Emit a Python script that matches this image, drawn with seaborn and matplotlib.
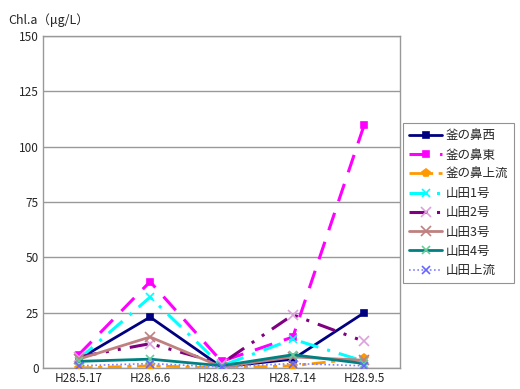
import matplotlib
matplotlib.use("Agg")
import matplotlib.pyplot as plt
import seaborn as sns
import pandas as pd

dates = ["H28.5.17", "H28.6.6", "H28.6.23", "H28.7.14", "H28.9.5"]
stations = ["釜の鼻西", "釜の鼻東", "釜の鼻上流", "山田1号", "山田2号", "山田3号", "山田4号", "山田上流"]

kamanohana_nishi = [4, 23, 0.5, 4, 25]
kamanohana_higashi = [6, 39, 3, 14, 110]
kamanohana_joryu = [0, 1, 0, 1, 4.5]
yamada1 = [4, 32, 1, 13, 3]
yamada2 = [5, 11, 2, 24, 12]
yamada3 = [4, 14, 0.5, 5, 3.5]
yamada4 = [3, 4, 1, 6, 2]
yamada_joryu = [1, 2, 0.5, 2, 1]

values = [kamanohana_nishi, kamanohana_higashi, kamanohana_joryu, yamada1,
          yamada2, yamada3, yamada4, yamada_joryu]

styles = {
    "釜の鼻西":   dict(color="#000080", ls="-", lw=2.0, marker="s", ms=5, mfc="#000080", mec="#000080"),
    "釜の鼻東":   dict(color="#FF00FF", ls=(0, (6, 4)), lw=2.2, marker="s", ms=5, mfc="#FF00FF", mec="#FF00FF"),
    "釜の鼻上流": dict(color="#FF9900", ls=(0, (5, 2, 1.5, 2)), lw=2.0, marker="p", ms=6, mfc="#FF9900", mec="#FF9900"),
    "山田1号":    dict(color="#00FFFF", ls=(0, (6, 3, 1, 3)), lw=2.2, marker="x", ms=6, mfc="#00FFFF", mec="#00FFFF"),
    "山田2号":    dict(color="#800080", ls=(0, (6, 3, 1, 3, 1, 3)), lw=2.2, marker="x", ms=7, mfc="#DDA0DD", mec="#DDA0DD"),
    "山田3号":    dict(color="#C08080", ls="-", lw=2.0, marker="x", ms=7, mfc="#C08080", mec="#C08080"),
    "山田4号":    dict(color="#008080", ls="-", lw=2.0, marker="x", ms=6, mfc="#66CC99", mec="#66CC99"),
    "山田上流":   dict(color="#8080FF", ls=(0, (1, 1.5)), lw=1.2, marker="x", ms=6, mfc="#6666FF", mec="#6666FF"),
}

df = pd.DataFrame({
    "date": [d for _ in stations for d in dates],
    "station": [s for s in stations for _ in dates],
    "value": [v for vals in values for v in vals],
})
df["date"] = pd.Categorical(df["date"], categories=dates, ordered=True)
df["pos"] = df["date"].cat.codes

sns.set_style("white")
plt.rcParams["font.family"] = ["Noto Sans CJK JP", "DejaVu Sans"]

fig = plt.figure(figsize=(5.2, 3.89), dpi=100)
ax = fig.add_axes([43 / 520, 21 / 389, 357 / 520, 332 / 389])

for st in stations:
    s = styles[st]
    sub = df[df["station"] == st]
    sns.lineplot(data=sub, x="pos", y="value", ax=ax, color=s["color"],
                 linestyle=s["ls"], linewidth=s["lw"], marker=s["marker"],
                 markersize=s["ms"], markerfacecolor=s["mfc"],
                 markeredgecolor=s["mec"], markeredgewidth=1.2,
                 label=st, legend=False, zorder=3)

ax.set_xlim(-0.5, len(dates) - 0.5)
ax.set_ylim(0, 150)
ax.set_yticks([0, 25, 50, 75, 100, 125, 150])
ax.set_xticks(range(len(dates)))
ax.set_xticklabels(dates)
ax.tick_params(axis="both", labelsize=8.5, length=0, pad=3)
ax.yaxis.grid(True, color="#999999", linewidth=1)
ax.set_axisbelow(True)
for sp in ax.spines.values():
    sp.set_color("#999999")
    sp.set_linewidth(1)
ax.set_xlabel("")
ax.set_ylabel("")

fig.text(8 / 520, 1 - 20 / 389, "Chl.a（μg/L）", fontsize=9, va="center", ha="left")

handles, labels = ax.get_legend_handles_labels()
leg = fig.legend(handles, labels, loc="upper left", bbox_to_anchor=(403 / 520, 1 - 123 / 389),
                 frameon=True, fontsize=9, handlelength=2.6, handletextpad=0.3,
                 labelspacing=0.5, borderpad=0.5, borderaxespad=0, fancybox=False)
leg.get_frame().set_edgecolor("#777777")
leg.get_frame().set_linewidth(0.8)

fig.savefig("out.png", dpi=100)
